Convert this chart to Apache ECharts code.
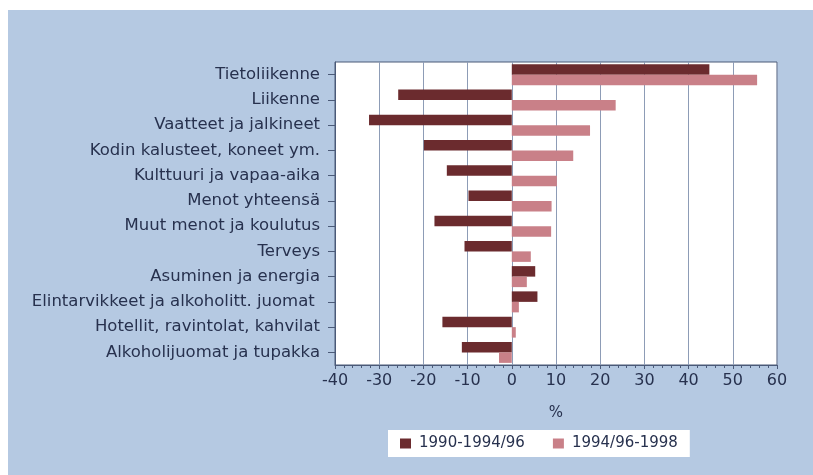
<!DOCTYPE html>
<html>
<head>
<meta charset="utf-8">
<script src="https://cdn.jsdelivr.net/npm/echarts@6/dist/echarts.min.js"></script>
<style>
  body { margin: 0; background: #fff; }
  #main { width: 813px; height: 475px; background: #b5c9e2; box-shadow: inset 8px 10px 0 #fff; }
</style>
</head>
<body>
<div id="main"></div>
<script>
// kategoriat ylhäältä alas
var categories = [
  'Tietoliikenne',
  'Liikenne',
  'Vaatteet ja jalkineet',
  'Kodin kalusteet, koneet ym.',
  'Kulttuuri ja vapaa-aika',
  'Menot yhteensä',
  'Muut menot ja koulutus',
  'Terveys',
  'Asuminen ja energia',
  'Elintarvikkeet ja alkoholitt. juomat ',
  'Hotellit, ravintolat, kahvilat',
  'Alkoholijuomat ja tupakka'
];
var seriesNames = ['1990-1994/96', '1994/96-1998'];
var period1 = [44.7, -25.7, -32.3, -19.9, -14.7, -9.8, -17.5, -10.7, 5.3, 5.8, -15.7, -11.3];
var period2 = [55.5, 23.5, 17.7, 13.9, 10.2, 9.0, 8.9, 4.3, 3.4, 1.6, 0.9, -2.9];
var xTicks = [-40, -30, -20, -10, 0, 10, 20, 30, 40, 50, 60];

var textColor = '#27314e';
var lineColor = '#4b5a78';
var font = 'DejaVu Sans';

var myChart = echarts.init(document.getElementById('main'));
var option = {
  animation: false,
  textStyle: { fontFamily: font, color: textColor },
  grid: {
    left: 335, right: 36, top: 62, bottom: 110,
    show: true, backgroundColor: '#fff', borderColor: lineColor, borderWidth: 1
  },
  legend: {
    data: seriesNames,
    left: 388, top: 430,
    padding: [6, 12, 6, 12],
    backgroundColor: '#fff',
    itemWidth: 11, itemHeight: 10, itemGap: 28,
    icon: 'rect',
    textStyle: { fontSize: 15, color: textColor, fontFamily: font, padding: [0, 0, 0, 3] }
  },
  xAxis: {
    type: 'value',
    min: xTicks[0], max: xTicks[xTicks.length - 1], interval: 10,
    name: '%', nameLocation: 'middle', nameGap: 41,
    nameTextStyle: { fontSize: 15, color: textColor, fontFamily: font },
    axisLine: { show: true, lineStyle: { color: lineColor } },
    axisTick: { show: true, length: 4, lineStyle: { color: lineColor } },
    minorTick: { show: true, splitNumber: 5, length: 3, lineStyle: { color: lineColor } },
    axisLabel: { fontSize: 16, color: textColor, fontFamily: font, margin: 8 },
    splitLine: { show: true, lineStyle: { color: '#8d9cb6', width: 1 } }
  },
  yAxis: {
    type: 'category',
    data: categories,
    inverse: true,
    axisLine: { show: true, onZero: false, lineStyle: { color: lineColor } },
    axisTick: { show: true, length: 7, alignWithLabel: true, lineStyle: { color: lineColor } },
    axisLabel: { fontSize: 16.5, color: textColor, fontFamily: font, margin: 15 },
    splitLine: { show: false }
  },
  series: [
    {
      name: seriesNames[0], type: 'bar', data: period1,
      barWidth: 10.5, barGap: '0%',
      itemStyle: { color: '#6b2b2e' }
    },
    {
      name: seriesNames[1], type: 'bar', data: period2,
      barWidth: 10.5, barGap: '0%',
      itemStyle: { color: '#c98088' }
    }
  ]
};
myChart.setOption(option);
</script>
</body>
</html>
